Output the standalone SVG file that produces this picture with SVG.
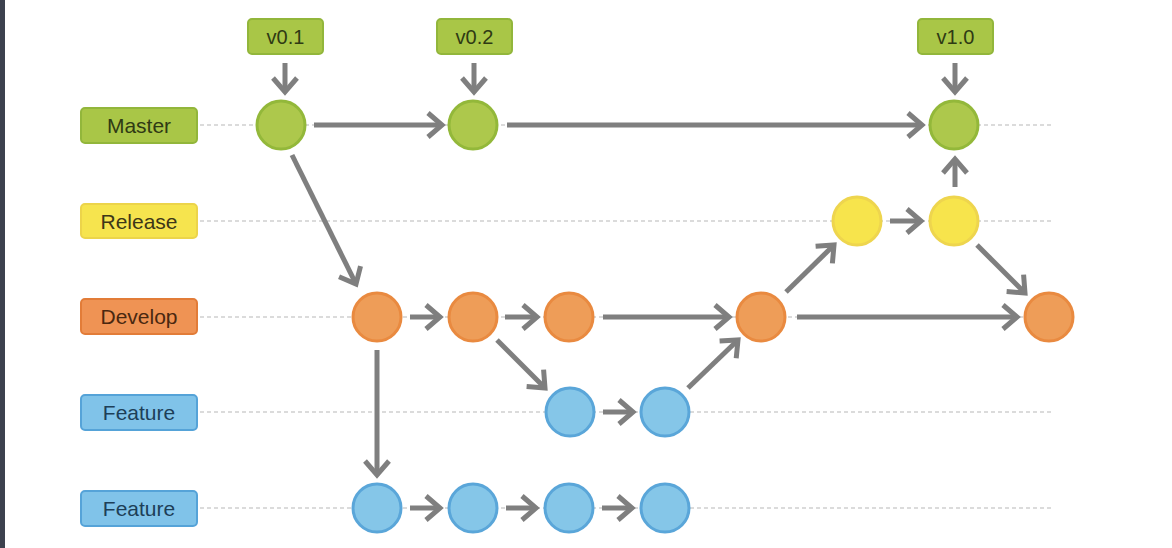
<svg xmlns="http://www.w3.org/2000/svg" width="1172" height="548" viewBox="0 0 1172 548">
<defs>
<marker id="ah" markerUnits="userSpaceOnUse" markerWidth="40" markerHeight="40" viewBox="-20 -20 40 40" refX="0" refY="0" orient="auto" overflow="visible">
<path d="M-14,-12 L0,0 L-14,12" fill="none" stroke="#7f7f7f" stroke-width="5" stroke-linejoin="miter" stroke-linecap="butt"/>
</marker>
</defs>
<style>
.lbl{font-family:"Liberation Sans",Arial,sans-serif;font-size:21px;text-anchor:middle;dominant-baseline:central}
.tag{font-family:"Liberation Sans",Arial,sans-serif;font-size:20px;text-anchor:middle;dominant-baseline:central;fill:#2f3a14}
.dash{stroke:#b8b8b8;stroke-width:1.1;stroke-dasharray:4 3;fill:none}
.c{fill:none;stroke:#7f7f7f;stroke-width:5;marker-end:url(#ah)}
.g{fill:#adc84c;stroke:#93b83a;stroke-width:3}
.y{fill:#f7e44c;stroke:#eed54e;stroke-width:3}
.o{fill:#ee9d58;stroke:#e98a40;stroke-width:3}
.b{fill:#85c6e8;stroke:#5aa6d9;stroke-width:3}
.gb{fill:#a9c647;stroke:#92b63b;stroke-width:2}
.yb{fill:#f6e44e;stroke:#ecd44a;stroke-width:2}
.ob{fill:#ef9354;stroke:#e27c38;stroke-width:2}
.bb{fill:#80c3e9;stroke:#55a3d8;stroke-width:2}
</style>
<rect width="1172" height="548" fill="#ffffff"/>
<rect x="0" y="0" width="5" height="548" fill="#3c414e"/>

<g id="lanes">
<line class="dash" x1="200" y1="125" x2="1052" y2="125"/>
<line class="dash" x1="200" y1="221" x2="1052" y2="221"/>
<line class="dash" x1="200" y1="317" x2="1052" y2="317"/>
<line class="dash" x1="200" y1="412" x2="1052" y2="412"/>
<line class="dash" x1="200" y1="508" x2="1052" y2="508"/>
</g>

<g id="label-master"><rect class="gb" x="81" y="108" width="116" height="35" rx="4"/><text class="lbl" x="139" y="125.5" fill="#2f3a14">Master</text></g>
<g id="label-release"><rect class="yb" x="81" y="204" width="116" height="34" rx="4"/><text class="lbl" x="139" y="221" fill="#3d3718">Release</text></g>
<g id="label-develop"><rect class="ob" x="81" y="299" width="116" height="35" rx="4"/><text class="lbl" x="139" y="316.5" fill="#4a2810">Develop</text></g>
<g id="label-feature1"><rect class="bb" x="81" y="395" width="116" height="35" rx="4"/><text class="lbl" x="139" y="412.5" fill="#1d3f58">Feature</text></g>
<g id="label-feature2"><rect class="bb" x="81" y="491" width="116" height="35" rx="4"/><text class="lbl" x="139" y="508.5" fill="#1d3f58">Feature</text></g>

<g id="tag-v01"><rect class="gb" x="248" y="19" width="75" height="35" rx="4"/><text class="tag" x="285.5" y="36.5">v0.1</text></g>
<g id="tag-v02"><rect class="gb" x="437" y="19" width="75" height="35" rx="4"/><text class="tag" x="474.5" y="36.5">v0.2</text></g>
<g id="tag-v10"><rect class="gb" x="918" y="19" width="75" height="35" rx="4"/><text class="tag" x="955.5" y="36.5">v1.0</text></g>

<g id="connectors">
<line class="c" x1="285" y1="63" x2="285" y2="92"/>
<line class="c" x1="474" y1="63" x2="474" y2="92"/>
<line class="c" x1="955" y1="63" x2="955" y2="92"/>
<line class="c" x1="314" y1="125" x2="442" y2="125"/>
<line class="c" x1="507" y1="125" x2="922" y2="125"/>
<line class="c" x1="292" y1="155" x2="356" y2="284"/>
<line class="c" x1="410" y1="317" x2="440" y2="317"/>
<line class="c" x1="505" y1="317" x2="537" y2="317"/>
<line class="c" x1="603" y1="317" x2="729" y2="317"/>
<line class="c" x1="797" y1="317" x2="1017" y2="317"/>
<line class="c" x1="497" y1="340" x2="545" y2="388"/>
<line class="c" x1="603" y1="412" x2="633" y2="412"/>
<line class="c" x1="688" y1="388" x2="738" y2="340"/>
<line class="c" x1="377" y1="350" x2="377" y2="475"/>
<line class="c" x1="410" y1="508" x2="440" y2="508"/>
<line class="c" x1="506" y1="508" x2="536" y2="508"/>
<line class="c" x1="602" y1="508" x2="632" y2="508"/>
<line class="c" x1="786" y1="292" x2="834" y2="245"/>
<line class="c" x1="890" y1="221" x2="921" y2="221"/>
<line class="c" x1="977" y1="245" x2="1025" y2="293"/>
<line class="c" x1="955" y1="187" x2="955" y2="159"/>
</g>

<g id="master-1"><circle class="g" cx="281" cy="125" r="24"/></g>
<g id="master-2"><circle class="g" cx="473" cy="125" r="24"/></g>
<g id="master-3"><circle class="g" cx="954" cy="125" r="24"/></g>
<g id="release-1"><circle class="y" cx="857" cy="221" r="24"/></g>
<g id="release-2"><circle class="y" cx="954" cy="221" r="24"/></g>
<g id="develop-1"><circle class="o" cx="377" cy="317" r="24"/></g>
<g id="develop-2"><circle class="o" cx="473" cy="317" r="24"/></g>
<g id="develop-3"><circle class="o" cx="569" cy="317" r="24"/></g>
<g id="develop-4"><circle class="o" cx="761" cy="317" r="24"/></g>
<g id="develop-5"><circle class="o" cx="1049" cy="317" r="24"/></g>
<g id="feature1-1"><circle class="b" cx="570" cy="412" r="24"/></g>
<g id="feature1-2"><circle class="b" cx="665" cy="412" r="24"/></g>
<g id="feature2-1"><circle class="b" cx="377" cy="508" r="24"/></g>
<g id="feature2-2"><circle class="b" cx="473" cy="508" r="24"/></g>
<g id="feature2-3"><circle class="b" cx="569" cy="508" r="24"/></g>
<g id="feature2-4"><circle class="b" cx="665" cy="508" r="24"/></g>
</svg>
